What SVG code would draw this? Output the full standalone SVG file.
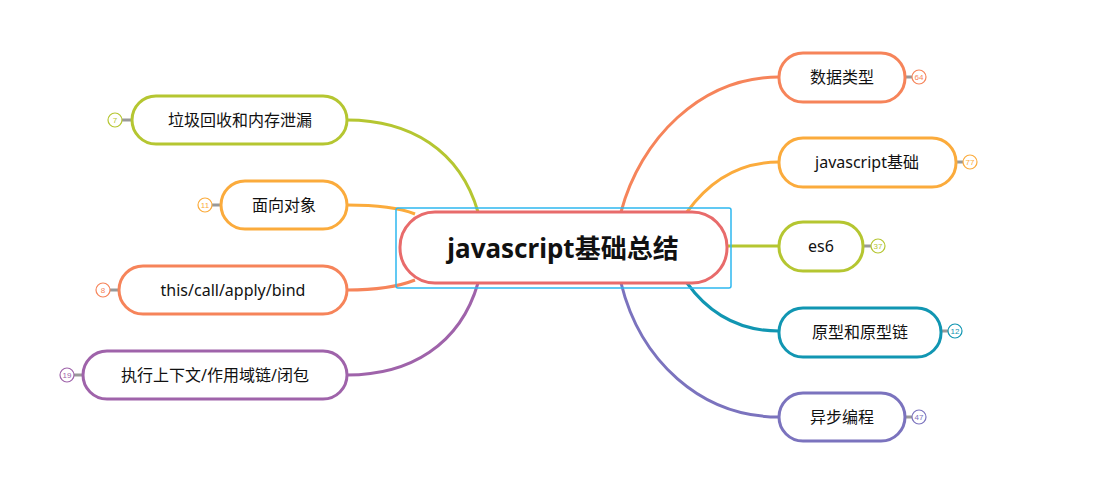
<svg xmlns="http://www.w3.org/2000/svg" width="1102" height="502" viewBox="0 0 1102 502">
<style>
.n{fill:#fff;stroke-width:3}
.t{font-family:"Noto Sans","Noto Sans CJK SC",sans-serif;font-size:16px;fill:#111;text-anchor:middle;dominant-baseline:central}
.b{fill:#fff;stroke-width:1.2}
.bt{font-family:"Liberation Sans",sans-serif;font-size:8px;text-anchor:middle;dominant-baseline:central}
.c path{fill:none;stroke-width:3}
</style>
<rect width="1102" height="502" fill="#fff"/>
<g class="c">
<path d="M621,212 C640,140 700,77 779,77" stroke="#f6845a"/>
<path d="M687,212 C710,180 740,162 779,162" stroke="#fbab3c"/>
<path d="M727,246 L779,246" stroke="#b5c631"/>
<path d="M687,283 C710,315 740,331 779,331" stroke="#1196b2"/>
<path d="M621,283 C640,360 700,417 779,417" stroke="#7b73be"/>
<path d="M478,212 C460,150 410,120 347,120" stroke="#b5c631"/>
<path d="M415,214 C395,206 370,205 347,205" stroke="#fbab3c"/>
<path d="M415,280 C395,288 370,290 347,290" stroke="#f6845a"/>
<path d="M478,283 C460,345 410,375 347,375" stroke="#9f63aa"/>
<path d="M905,77 H912 M956,162 H963 M863,246 H871 M941,331 H948 M905,417 H912 M132,120 H122 M221,205 H212 M119,290 H110 M83,375 H74" stroke-width="1.5" stroke="#999"/>
</g>
<g id="center">
<rect x="396" y="208" width="335" height="80" rx="2" fill="none" stroke="#2eb8f0" stroke-width="1.5"/>
<rect x="400" y="212" width="327" height="71" rx="35" class="n" stroke="#e86b6b"/>
<text x="563" y="248" class="t" style="font-size:26px;font-weight:bold">javascript基础总结</text>
</g>
<g id="n1"><rect x="779" y="53" width="126" height="49" rx="24" class="n" stroke="#f6845a"/><text x="842" y="77" class="t">数据类型</text><circle cx="919" cy="77" r="7" class="b" stroke="#f6845a"/><text x="919" y="77" class="bt" fill="#f6845a">64</text></g>
<g id="n2"><rect x="779" y="138" width="177" height="49" rx="24" class="n" stroke="#fbab3c"/><text x="867" y="162" class="t">javascript基础</text><circle cx="970" cy="162" r="7" class="b" stroke="#fbab3c"/><text x="970" y="162" class="bt" fill="#fbab3c">77</text></g>
<g id="n3"><rect x="779" y="222" width="84" height="49" rx="24" class="n" stroke="#b5c631"/><text x="821" y="246" class="t">es6</text><circle cx="878" cy="246" r="7" class="b" stroke="#b5c631"/><text x="878" y="246" class="bt" fill="#b5c631">37</text></g>
<g id="n4"><rect x="779" y="308" width="162" height="49" rx="24" class="n" stroke="#1196b2"/><text x="860" y="332" class="t">原型和原型链</text><circle cx="955" cy="331" r="7" class="b" stroke="#1196b2"/><text x="955" y="331" class="bt" fill="#1196b2">12</text></g>
<g id="n5"><rect x="779" y="393" width="126" height="48" rx="24" class="n" stroke="#7b73be"/><text x="842" y="417" class="t">异步编程</text><circle cx="919" cy="417" r="7" class="b" stroke="#7b73be"/><text x="919" y="417" class="bt" fill="#7b73be">47</text></g>
<g id="n6"><rect x="132" y="96" width="215" height="48" rx="24" class="n" stroke="#b5c631"/><text x="240" y="120" class="t">垃圾回收和内存泄漏</text><circle cx="115" cy="120" r="7" class="b" stroke="#b5c631"/><text x="115" y="120" class="bt" fill="#b5c631">7</text></g>
<g id="n7"><rect x="221" y="181" width="126" height="48" rx="24" class="n" stroke="#fbab3c"/><text x="284" y="205" class="t">面向对象</text><circle cx="205" cy="205" r="7" class="b" stroke="#fbab3c"/><text x="205" y="205" class="bt" fill="#fbab3c">11</text></g>
<g id="n8"><rect x="119" y="266" width="228" height="48" rx="24" class="n" stroke="#f6845a"/><text x="233" y="290" class="t">this/call/apply/bind</text><circle cx="103" cy="290" r="7" class="b" stroke="#f6845a"/><text x="103" y="290" class="bt" fill="#f6845a">8</text></g>
<g id="n9"><rect x="83" y="351" width="264" height="48" rx="24" class="n" stroke="#9f63aa"/><text x="215" y="375" class="t">执行上下文/作用域链/闭包</text><circle cx="67" cy="375" r="7" class="b" stroke="#9f63aa"/><text x="67" y="375" class="bt" fill="#9f63aa">19</text></g>
</svg>
